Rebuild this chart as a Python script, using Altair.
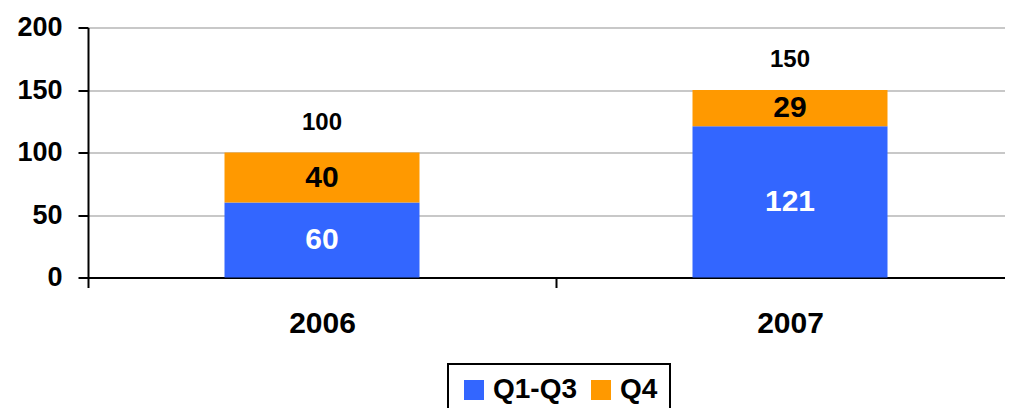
import altair as alt
import pandas as pd

years = ["2006", "2007"]
series = ["Q1-Q3", "Q4"]
q1_q3 = [60, 121]
q4 = [40, 29]
colors = ["#3366FF", "#FF9900"]
label_colors = ["#FFFFFF", "#000000"]
y_ticks = [0, 50, 100, 150, 200]

rows = []
for i, y in enumerate(years):
    rows.append({"year": y, "series": series[0], "value": q1_q3[i], "order": 0})
    rows.append({"year": y, "series": series[1], "value": q4[i], "order": 1})
df = pd.DataFrame(rows)

FONT = "Liberation Sans"

x_scale = alt.Scale(domain=years, range=[0, 936], paddingInner=0, paddingOuter=0)

x_enc = alt.X(
    "year:N",
    sort=years,
    scale=x_scale,
    axis=alt.Axis(
        title=None, labelAngle=0, tickBand="extent", tickSize=10, tickWidth=2,
        tickColor="black", domainColor="black", domainWidth=2, grid=False,
        labelFont=FONT, labelFontSize=30, labelFontWeight="bold",
        labelColor="black", labelPadding=21,
    ),
)
y_scale = alt.Scale(domain=[0, 200], nice=False)

bars = alt.Chart(df).mark_bar(size=195).encode(
    x=x_enc,
    y=alt.Y(
        "sum(value):Q",
        stack="zero",
        scale=y_scale,
        axis=alt.Axis(
            title=None, values=y_ticks, tickSize=10, tickWidth=2, tickColor="black",
            domainColor="black", domainWidth=2, gridColor="#C8C8C8", gridWidth=2,
            labelFont=FONT, labelFontSize=27, labelFontWeight="bold",
            labelColor="black", labelPadding=16,
        ),
    ),
    color=alt.Color(
        "series:N",
        scale=alt.Scale(domain=series, range=colors),
        legend=alt.Legend(
            title=None, orient="none", legendX=360, legendY=336.5,
            direction="horizontal", strokeColor="black",
            fillColor="white", padding=12, symbolType="square",
            symbolSize=400, symbolStrokeWidth=0, labelFont=FONT,
            labelFontSize=28, labelFontWeight="bold", labelColor="black",
            labelOffset=5, columnPadding=9,
        ),
    ),
    order=alt.Order("order:Q", sort="ascending"),
)

seg_text = alt.Chart(df).transform_stack(
    stack="value", groupby=["year"], as_=["y0", "y1"],
    sort=[alt.SortField("order", order="ascending")],
).transform_calculate(
    mid="(datum.y0 + datum.y1) / 2"
).mark_text(font=FONT, fontSize=30, fontWeight="bold", baseline="middle").encode(
    x=alt.X("year:N", sort=years, scale=x_scale),
    y=alt.Y("mid:Q", scale=y_scale),
    text="value:Q",
    color=alt.Color("series:N", scale=alt.Scale(domain=series, range=label_colors), legend=None),
)

total_text = alt.Chart(df).transform_aggregate(
    total="sum(value)", groupby=["year"]
).mark_text(font=FONT, fontSize=24, fontWeight="bold", baseline="middle", dy=-30, color="black").encode(
    x=alt.X("year:N", sort=years, scale=x_scale),
    y=alt.Y("total:Q", scale=y_scale),
    text="total:Q",
)

chart = alt.layer(bars, seg_text, total_text).resolve_scale(color="independent").properties(
    width=917, height=250,
    autosize=alt.AutoSizeParams(type="none"),
    padding={"left": 80, "top": 19.5, "right": 0, "bottom": 130},
).configure_view(stroke=None).configure_legend(strokeWidth=2)

chart.save("out.html", embed_options={"renderer": "svg", "actions": False})
